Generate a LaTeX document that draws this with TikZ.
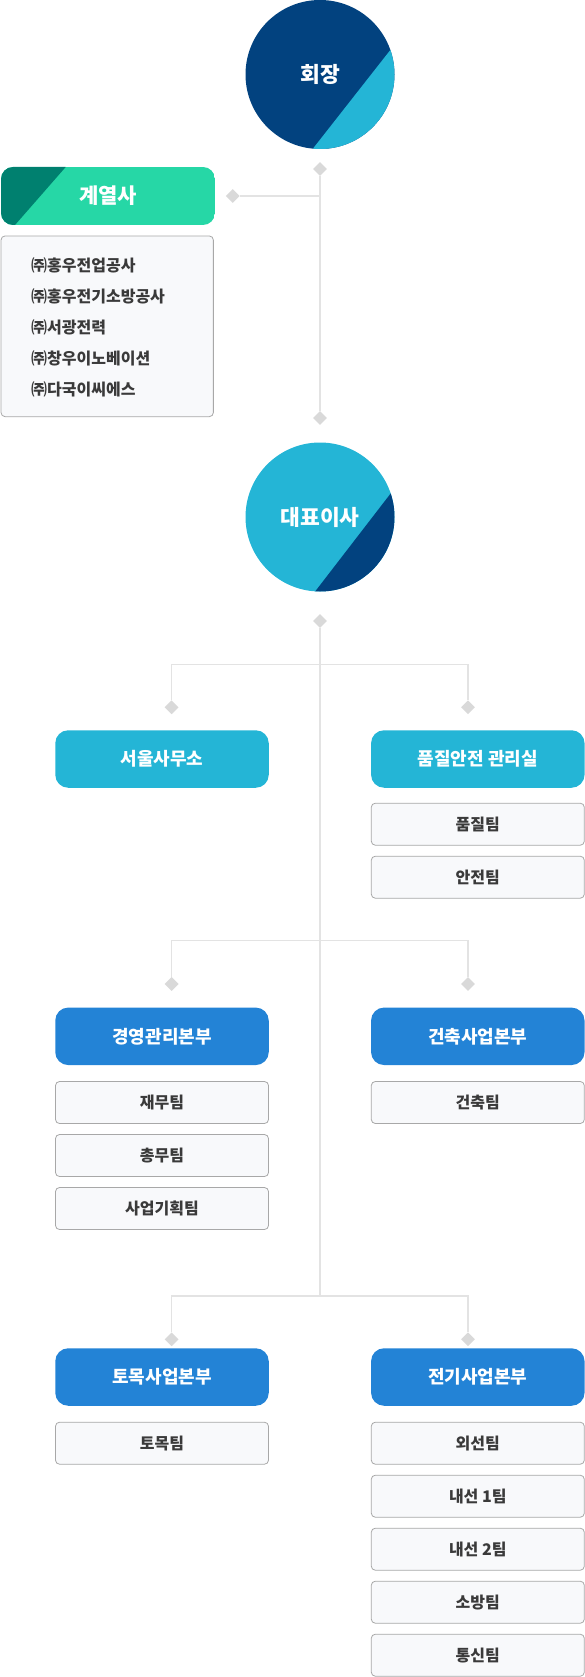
\documentclass[tikz,border=0pt]{standalone}
\usepackage{fontspec}
\setmainfont{Noto Sans CJK KR}
\usetikzlibrary{shapes.geometric}
\definecolor{navy}{HTML}{02427F}
\definecolor{sky}{HTML}{24B5D6}
\definecolor{azure}{HTML}{2383D6}
\definecolor{mint}{HTML}{26D7A6}
\definecolor{deepteal}{HTML}{00806F}
\definecolor{linegray}{HTML}{E3E3E3}
\definecolor{dotgray}{HTML}{D9D9D9}
\definecolor{teamfill}{HTML}{F8F9FB}
\definecolor{teamline}{HTML}{A8A8A8}
\definecolor{textgray}{HTML}{3A3A3A}
\begin{document}
\begin{tikzpicture}[x=1pt, y=-1pt,
    link/.style={draw=linegray, line width=1.3pt},
    joint/.style={diamond, fill=dotgray, inner sep=0pt, minimum width=14pt, minimum height=14pt},
    chief/.style={text=white, font=\bfseries\fontsize{21.5}{24}\selectfont},
    dept/.style={rounded corners=13pt, minimum width=213.5pt, minimum height=57.5pt, inner sep=0pt, text=white, font=\bfseries\fontsize{18}{20}\selectfont},
    team/.style={draw=teamline, fill=teamfill, line width=.8pt, rounded corners=4pt, minimum width=213pt, minimum height=42pt, inner sep=0pt, text=textgray, font=\bfseries\fontsize{16}{18}\selectfont}]
\useasboundingbox (0,0) rectangle (585,1677);

\begin{scope}
    \clip (320,74.5) circle[radius=74.5pt];
    \fill[navy] (245,0) rectangle (396,150);
    \fill[sky] (428,2) -- (275,197) -- (400,197) -- (400,2) -- cycle;
\end{scope}
\node[chief] (boss) at (320,74.5) {회장};

\begin{scope}
    \clip (320,517) circle[radius=74.5pt];
    \fill[sky] (245,442) rectangle (396,592);
    \fill[navy] (428,445) -- (277,641) -- (400,641) -- (400,445) -- cycle;
\end{scope}
\node[chief] (ceo) at (320,517) {대표이사};

\begin{scope}
    \clip[rounded corners=12pt] (1,167) rectangle (215,225);
    \fill[mint] (1,167) rectangle (215,225);
    \fill[deepteal] (1,167) -- (65.7,167) -- (15,225) -- (1,225) -- cycle;
\end{scope}
\node[chief, font=\bfseries\fontsize{21}{24}\selectfont] (group) at (108,196) {계열사};
\node[team, minimum width=212.3pt, minimum height=180.7pt] (firms) at (107.2,326.3) {};
\foreach \name [count=\i] in {㈜홍우전업공사,㈜홍우전기소방공사,㈜서광전력,㈜창우이노베이션,㈜다국이씨에스}
{
    \node[anchor=west, text=textgray, font=\bfseries\fontsize{16}{18}\selectfont, inner sep=0pt] (firm\i) at (31,234+31*\i) {\name};
}

\node[joint] (j0) at (320,169) {};
\node[joint] (jg) at (232.8,196) {};
\node[joint] (j1) at (320,418) {};
\node[joint] (j2) at (320,621) {};
\node[joint] (ja) at (171.6,707.3) {};
\node[joint] (jb) at (468,707.3) {};
\node[joint] (jc) at (171.6,984) {};
\node[joint] (jd) at (468,984) {};
\node[joint] (je) at (171.6,1339.3) {};
\node[joint] (jf) at (468,1339.3) {};
\coordinate (s1) at (320,664.3);
\coordinate (s2) at (320,940.7);
\coordinate (s3) at (320,1296);

\draw[link] (j0.south) -- (j1.north);
\draw[link] (jg.east) -- (jg -| j0);
\draw[link] (j2.south) -- (s3);
\draw[link] (ja.north) |- (s1) -| (jb.north);
\draw[link] (jc.north) |- (s2) -| (jd.north);
\draw[link] (je.north) |- (s3) -| (jf.north);

\node[dept, fill=sky] (seoul) at (162,759) {서울사무소};
\node[dept, fill=sky] (quality) at (477.8,759) {품질안전 관리실};
\node[dept, fill=azure] (admin) at (162,1036.3) {경영관리본부};
\node[dept, fill=azure] (build) at (477.8,1036.3) {건축사업본부};
\node[dept, fill=azure] (civil) at (162,1377) {토목사업본부};
\node[dept, fill=azure] (power) at (477.8,1377) {전기사업본부};

\foreach \name [count=\i] in {품질팀,안전팀}
{
    \node[team] (qteam\i) at (477.8,771.2+53*\i) {\name};
}
\foreach \name [count=\i] in {재무팀,총무팀,사업기획팀}
{
    \node[team] (ateam\i) at (162,1049.5+53*\i) {\name};
}
\node[team] (bteam1) at (477.8,1102.5) {건축팀};
\node[team] (cteam1) at (162,1443.2) {토목팀};
\foreach \name [count=\i] in {외선팀,내선 1팀,내선 2팀,소방팀,통신팀}
{
    \node[team] (pteam\i) at (477.8,1390.2+53*\i) {\name};
}

\end{tikzpicture}
\end{document}
